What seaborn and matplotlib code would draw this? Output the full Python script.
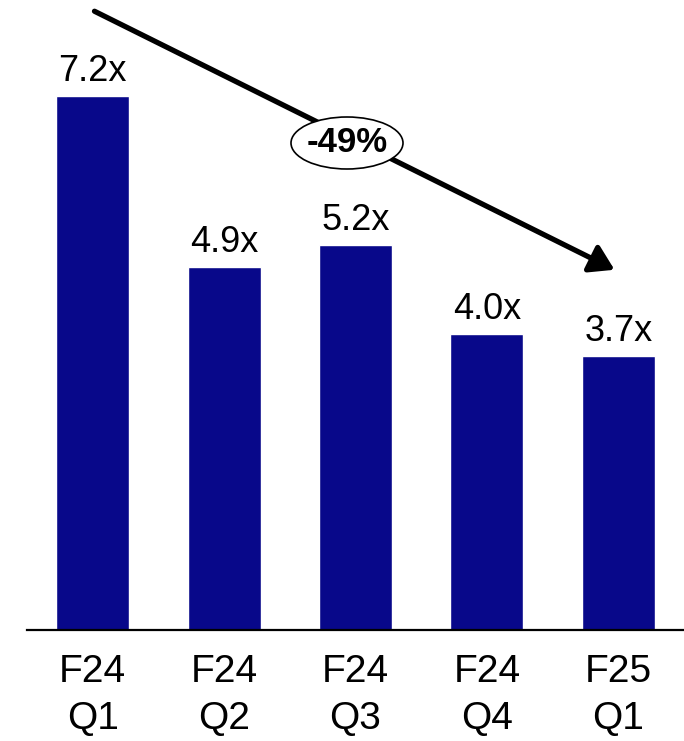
import matplotlib
matplotlib.use("Agg")
import matplotlib.pyplot as plt
from matplotlib.patches import Ellipse, FancyArrowPatch
import seaborn as sns
import pandas as pd

# Quarterly multiples
quarters = ["F24\nQ1", "F24\nQ2", "F24\nQ3", "F24\nQ4", "F25\nQ1"]
multiples = [7.2, 4.9, 5.2, 4.0, 3.7]
value_labels = ["7.2x", "4.9x", "5.2x", "4.0x", "3.7x"]
change_label = "-49%"

BAR_COLOR = "#08088A"

sns.set_theme(style="white")
plt.rcParams["font.family"] = ["Liberation Sans", "DejaVu Sans"]

df = pd.DataFrame({"quarter": quarters, "multiple": multiples})

fig = plt.figure(figsize=(6.84, 7.41), dpi=100)
ax = fig.add_axes([27 / 684, 111 / 741, 657 / 684, 630 / 741])

sns.barplot(data=df, x="quarter", y="multiple", color=BAR_COLOR,
            width=0.555, saturation=1, ax=ax)

ax.set_xlim(-0.5, 4.5)
ax.set_ylim(0, 8.5)

for i, (v, lab) in enumerate(zip(multiples, value_labels)):
    ax.annotate(lab, (i, v), xytext=(0, 5), textcoords="offset points",
                ha="center", va="bottom", fontsize=26, color="black")

for s in ["top", "left", "right"]:
    ax.spines[s].set_visible(False)
ax.spines["bottom"].set_color("black")
ax.spines["bottom"].set_linewidth(1.6)
ax.set_yticks([])
ax.set_xlabel("")
ax.set_ylabel("")
ax.tick_params(axis="x", length=0, pad=17, labelsize=28, colors="black")
for t in ax.get_xticklabels():
    t.set_linespacing(1.4)

# Trend arrow with percentage callout
fig.patches.append(FancyArrowPatch(
    (92 / 684, 1 - 10 / 741), (617 / 684, 1 - 271 / 741),
    transform=fig.transFigure, arrowstyle="-|>,head_length=1.2,head_width=0.75",
    mutation_scale=12, color="black", linewidth=3.8, zorder=5))

ell = Ellipse((347 / 684, 1 - 143 / 741), 112 / 684, 52 / 741,
              transform=fig.transFigure, facecolor="white", edgecolor="black",
              linewidth=1.2, zorder=6)
fig.patches.append(ell)
fig.text(347 / 684, 1 - 143 / 741, change_label, ha="center", va="center",
         fontsize=25, fontweight="bold", color="black", zorder=7)

fig.savefig("out.png", dpi=100)
